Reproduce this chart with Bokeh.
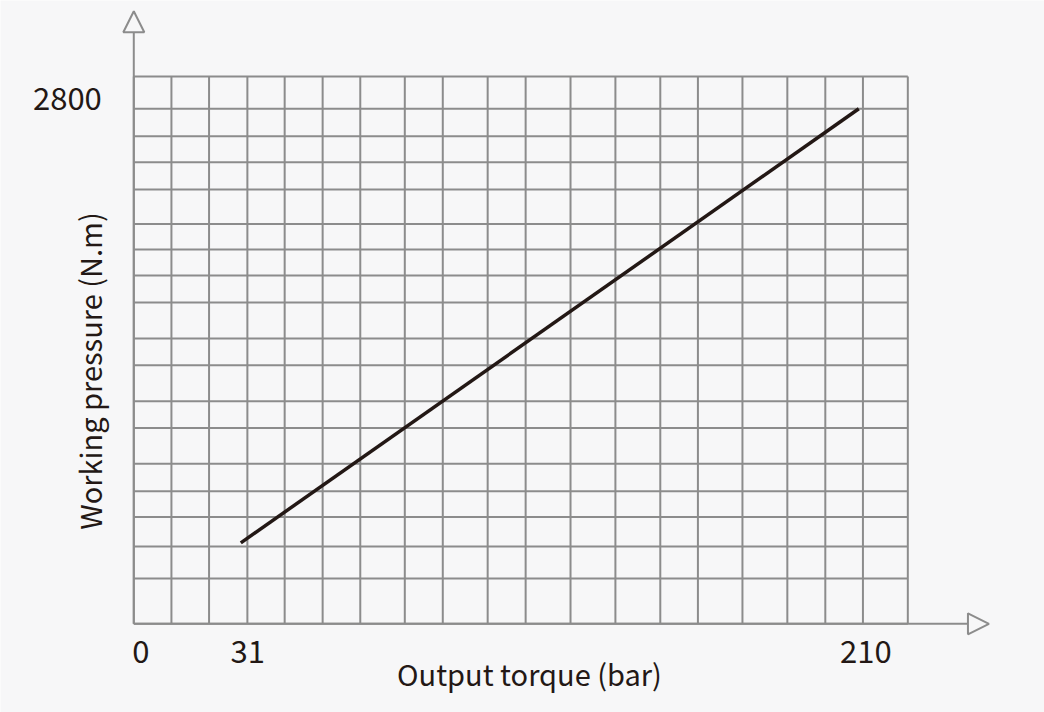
from bokeh.plotting import figure
from bokeh.models import Range1d, Arrow, NormalHead, Label
from bokeh.core.properties import value
from bokeh.embed import file_html
from bokeh.resources import INLINE

# ---- data ----
torque_bar = [31, 210]            # x values of the characteristic line
pressure_nm = [440, 2800]         # y values of the characteristic line
x_tick_values = [0, 31, 210]
x_tick_labels = ["0", "31", "210"]
y_tick_values = [2800]
y_tick_labels = ["2800"]
x_grid = [0, 10.9, 21.8, 32.9, 43.7, 54.7, 65.6, 78.5, 89.5, 102.5, 113.5,
          126.5, 139.5, 152.5, 163.4, 176.3, 189.3, 200.3, 211.2, 224.2]
y_grid = [0, 246, 420, 580, 721, 870, 1064, 1210, 1406, 1551, 1747, 1894,
          2035, 2173, 2361, 2510, 2651, 2800, 2976]
x_title = "Output torque (bar)"
y_title = "Working pressure (N.m)"

BG = "#f7f7f8"
GRID = "#8c8c8c"
INK = "#231815"
FONT = "Noto Sans CJK KR"

p = figure(width=1044, height=712, output_backend="svg", toolbar_location=None,
           x_range=Range1d(-38.61, 263.79), y_range=Range1d(-482.3, 3388.8),
           x_axis_location=None, y_axis_location=None,
           min_border=0)
p.background_fill_color = BG
p.border_fill_color = BG
p.outline_line_color = None
p.grid.visible = False

# grid cells
gx_top = max(y_grid)
gy_right = max(x_grid)
p.segment(x0=x_grid, y0=[0] * len(x_grid), x1=x_grid, y1=[gx_top] * len(x_grid),
          line_color=GRID, line_width=2)
p.segment(x0=[0] * len(y_grid), y0=y_grid, x1=[gy_right] * len(y_grid), y1=y_grid,
          line_color=GRID, line_width=2)

# axis arrows
p.add_layout(Arrow(x_start=0, y_start=0, x_end=0, y_end=3330,
                   line_color=GRID, line_width=2,
                   end=NormalHead(size=21, fill_color=BG, line_color=GRID, line_width=2)))
p.add_layout(Arrow(x_start=0, y_start=0, x_end=247.7, y_end=0,
                   line_color=GRID, line_width=2,
                   end=NormalHead(size=21, fill_color=BG, line_color=GRID, line_width=2)))

# characteristic line
p.line(torque_bar, pressure_nm, line_color=INK, line_width=3.5)

# tick labels
p.text(x=x_tick_values, y=[0] * len(x_tick_values), text=x_tick_labels,
       text_align="center", text_baseline="alphabetic", x_offset=7, y_offset=28,
       text_font=value(FONT), text_font_size=value("31px"), text_color=INK)
p.text(x=[0] * len(y_tick_values), y=y_tick_values, text=y_tick_labels,
       text_align="right", text_baseline="alphabetic", x_offset=-32, y_offset=-10.6,
       text_font=value(FONT), text_font_size=value("31px"), text_color=INK)

# axis titles
p.add_layout(Label(x=114.6, y=-270, text=x_title, text_align="center",
                   text_baseline="alphabetic", text_font=FONT, text_font_size="29px",
                   text_color=INK))
p.add_layout(Label(x=-13.1, y=1374.5, text=y_title, text_align="center",
                   text_baseline="alphabetic", angle=90, angle_units="deg",
                   text_font=FONT, text_font_size="29px", text_color=INK))

open("out.html", "w").write(file_html(p, INLINE))
